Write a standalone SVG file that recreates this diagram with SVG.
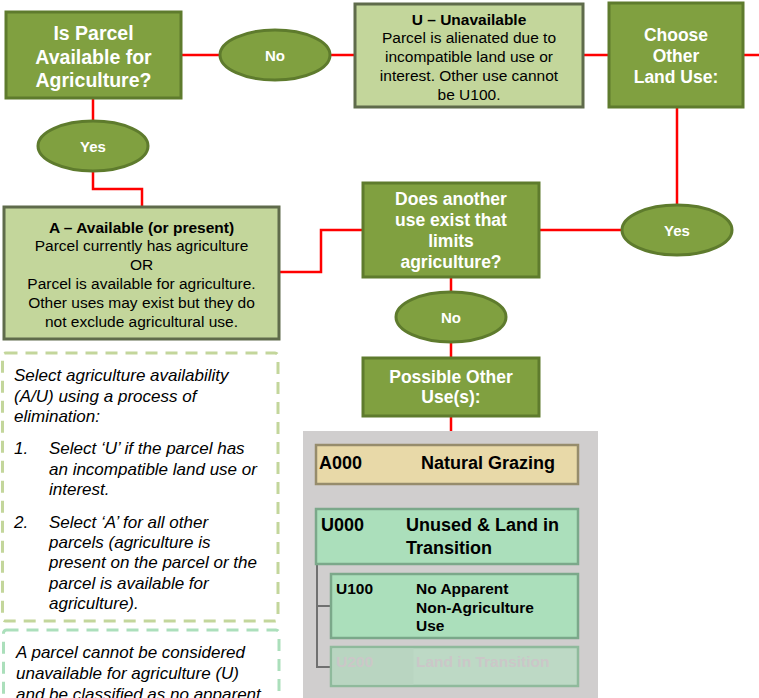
<svg xmlns="http://www.w3.org/2000/svg" width="759" height="698" viewBox="0 0 759 698">
<style>
.dark{fill:#80A040;stroke:#5E7B2D;stroke-width:3}
.light{fill:#C3D69B;stroke:#5F6B4B;stroke-width:3}
.wt{font-family:"Liberation Sans",Arial,sans-serif;font-weight:bold;fill:#FFFFFF;text-anchor:middle}
.bt{font-family:"Liberation Sans",Arial,sans-serif;fill:#000000;text-anchor:middle;font-size:15.5px}
.it{font-family:"Liberation Sans",Arial,sans-serif;font-style:italic;fill:#000000;font-size:17px}
.kb{font-family:"Liberation Sans",Arial,sans-serif;font-weight:bold;fill:#000000}
.conn{fill:none;stroke:#FF0000;stroke-width:2.5}
</style>
<rect width="759" height="698" fill="#FFFFFF"/>
<g id="connectors">
<path class="conn" d="M181,55 H220 M330,55 H355 M583,55 H609 M743,55 H759"/>
<path class="conn" d="M677,107 V205 M622,230 H539"/>
<path class="conn" d="M93,98 V121 M93,171 V189 H142 V207"/>
<path class="conn" d="M279,272 H321 V230 H363"/>
<path class="conn" d="M451,277 V292 M451,342 V358 M451,416 V431"/>
</g>
<g id="q1">
<rect class="dark" x="6" y="12" width="175" height="86"/>
<text class="wt" font-size="19.5" x="93.5" y="40">Is Parcel</text>
<text class="wt" font-size="19.5" x="93.5" y="64">Available for</text>
<text class="wt" font-size="19.5" x="93.5" y="87">Agriculture?</text>
</g>
<g id="no1">
<ellipse class="dark" cx="275" cy="55" rx="55" ry="25"/>
<text class="wt" font-size="15" x="275" y="60.5">No</text>
</g>
<g id="unavailable">
<rect class="light" x="355" y="4" width="228" height="103"/>
<text class="bt" x="469" y="24.5" font-weight="bold">U – Unavailable</text>
<text class="bt" x="469" y="43">Parcel is alienated due to</text>
<text class="bt" x="469" y="61.5">incompatible land use or</text>
<text class="bt" x="469" y="80.5">interest. Other use cannot</text>
<text class="bt" x="469" y="99.5">be U100.</text>
</g>
<g id="choose">
<rect class="dark" x="609" y="3" width="134" height="104"/>
<text class="wt" font-size="17.5" x="676" y="41">Choose</text>
<text class="wt" font-size="17.5" x="676" y="62">Other</text>
<text class="wt" font-size="17.5" x="676" y="83">Land Use:</text>
</g>
<g id="yes1">
<ellipse class="dark" cx="93" cy="146" rx="55" ry="25"/>
<text class="wt" font-size="15" x="93" y="151.5">Yes</text>
</g>
<g id="yes2">
<ellipse class="dark" cx="677" cy="230" rx="55" ry="25"/>
<text class="wt" font-size="15" x="677" y="235.5">Yes</text>
</g>
<g id="available">
<rect class="light" x="4" y="207" width="275" height="132"/>
<text class="bt" x="141.5" y="232.5" font-weight="bold">A – Available (or present)</text>
<text class="bt" x="141.5" y="251">Parcel currently has agriculture</text>
<text class="bt" x="141.5" y="270">OR</text>
<text class="bt" x="141.5" y="288.5">Parcel is available for agriculture.</text>
<text class="bt" x="141.5" y="307.5">Other uses may exist but they do</text>
<text class="bt" x="141.5" y="326.5">not exclude agricultural use.</text>
</g>
<g id="q2">
<rect class="dark" x="363" y="183" width="176" height="94"/>
<text class="wt" font-size="17.5" x="451" y="205">Does another</text>
<text class="wt" font-size="17.5" x="451" y="226">use exist that</text>
<text class="wt" font-size="17.5" x="451" y="247">limits</text>
<text class="wt" font-size="17.5" x="451" y="268">agriculture?</text>
</g>
<g id="no2">
<ellipse class="dark" cx="451" cy="317" rx="55" ry="25"/>
<text class="wt" font-size="15" x="451" y="322.5">No</text>
</g>
<g id="possible">
<rect class="dark" x="363" y="358" width="176" height="58"/>
<text class="wt" font-size="17.5" x="451" y="383">Possible Other</text>
<text class="wt" font-size="17.5" x="451" y="403">Use(s):</text>
</g>
<g id="note1">
<rect x="2.5" y="353" width="275.5" height="268" rx="3" fill="none" stroke="#C3D69B" stroke-width="3" stroke-dasharray="12 8"/>
<text class="it" x="14" y="381">Select agriculture availability</text>
<text class="it" x="14" y="402">(A/U) using a process of</text>
<text class="it" x="14" y="422">elimination:</text>
<text class="it" x="14" y="454">1.</text>
<text class="it" x="49" y="454">Select ‘U’ if the parcel has</text>
<text class="it" x="49" y="475">an incompatible land use or</text>
<text class="it" x="49" y="495">interest.</text>
<text class="it" x="14" y="528">2.</text>
<text class="it" x="49" y="528">Select ‘A’ for all other</text>
<text class="it" x="49" y="548">parcels (agriculture is</text>
<text class="it" x="49" y="568">present on the parcel or the</text>
<text class="it" x="49" y="589">parcel is available for</text>
<text class="it" x="49" y="609">agriculture).</text>
</g>
<g id="note2">
<rect x="3.5" y="630" width="275.5" height="100" rx="3" fill="none" stroke="#ABDFBB" stroke-width="3" stroke-dasharray="12 8"/>
<text class="it" x="16" y="658">A parcel cannot be considered</text>
<text class="it" x="16" y="679">unavailable for agriculture (U)</text>
<text class="it" x="16" y="700">and be classified as no apparent</text>
</g>
<g id="panel">
<rect x="303" y="431" width="295" height="280" fill="#D0CECE"/>
</g>
<g id="tree">
<path d="M317,564 V667 H331 M317,606 H331" fill="none" stroke="#707070" stroke-width="2"/>
</g>
<g id="a000">
<rect x="316" y="445" width="262" height="39" fill="#E8D9A8" stroke="#968C6C" stroke-width="2.5"/>
<text class="kb" font-size="18" x="319" y="468.5">A000</text>
<text class="kb" font-size="18" x="421" y="468.5">Natural Grazing</text>
</g>
<g id="u000">
<rect x="316" y="509" width="262" height="55" fill="#ABDFBB" stroke="#7BA88A" stroke-width="2.5"/>
<text class="kb" font-size="18" x="321" y="530.5">U000</text>
<text class="kb" font-size="18" x="406" y="530.5">Unused &amp; Land in</text>
<text class="kb" font-size="18" x="406" y="553.5">Transition</text>
</g>
<g id="u100">
<rect x="331" y="574" width="247" height="64" fill="#ABDFBB" stroke="#7BA88A" stroke-width="2.5"/>
<text class="kb" font-size="15.5" x="336" y="593.5">U100</text>
<text class="kb" font-size="15.5" x="416" y="593.5">No Apparent</text>
<text class="kb" font-size="15.5" x="416" y="612.5">Non-Agriculture</text>
<text class="kb" font-size="15.5" x="416" y="630.5">Use</text>
</g>
<g id="u200">
<rect x="331" y="647" width="247" height="39" fill="#BDD9C5" stroke="#8FBA9C" stroke-width="2.5"/>
<rect x="332.5" y="648.5" width="81" height="36" fill="#B9D5C1"/>
<text class="kb" font-size="15.5" x="336" y="666.5" style="fill:#CBC7C8">U200</text>
<text class="kb" font-size="15.5" x="416" y="666.5" style="fill:#CBC7C8">Land in Transition</text>
</g>
</svg>
